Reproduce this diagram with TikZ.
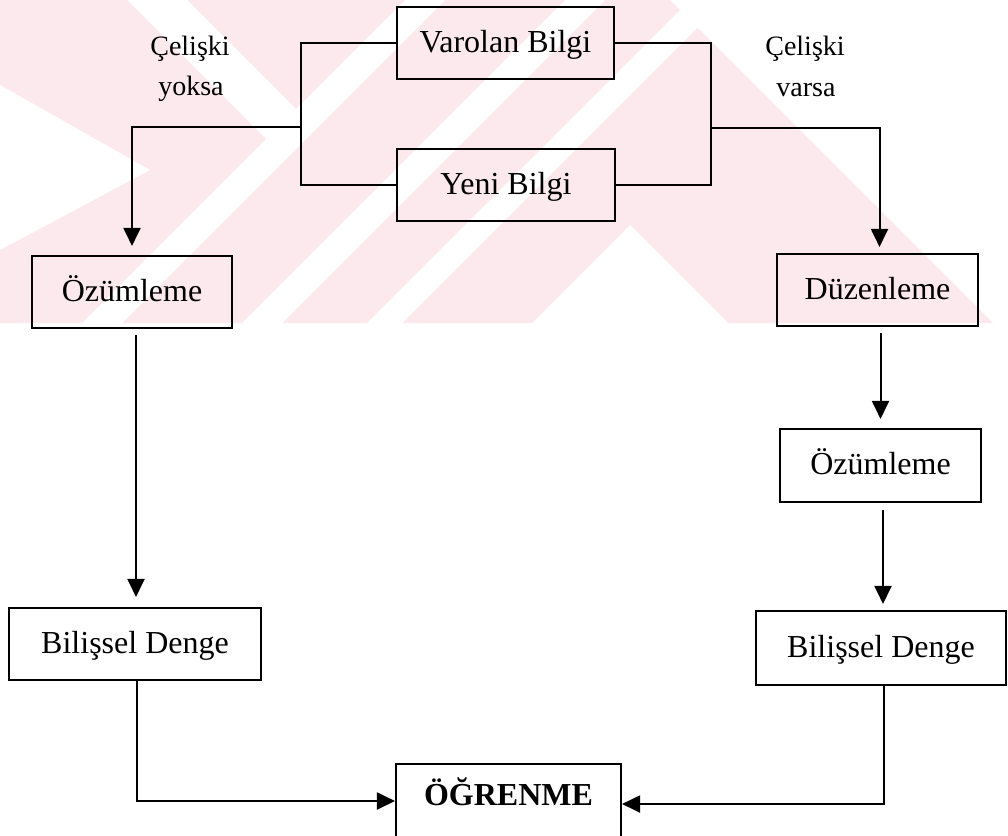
\documentclass[tikz,border=0pt]{standalone}
\usepackage{fontspec}
\setmainfont{Liberation Serif}
\usetikzlibrary{arrows.meta}
\definecolor{wm}{RGB}{252,233,237}
\begin{document}
\begin{tikzpicture}[x=1pt,y=-1pt]
\tikzset{
  box/.style={draw, line width=2.1pt, inner sep=0pt, text height=25pt, text depth=7pt, font=\fontsize{32}{38}\selectfont},
  lbl/.style={font=\fontsize{28}{34}\selectfont, anchor=base, inner sep=0pt},
  conn/.style={line width=2pt},
  arr/.style={conn, -{Triangle[width=17pt,length=18pt]}}
}
\useasboundingbox (0,0) rectangle (1008,835);
% watermark
\begin{scope}
  \clip (0,0) rectangle (1008,323);
  \fill[wm] (0,0) -- (670,0) -- (993,323) -- (0,323) -- cycle;
  \fill[white] (0,85) -- (150,170) -- (0,250) -- cycle;
  \fill[white] (405,0) -- (445,0) -- (122,323) -- (82,323) -- cycle;
  \fill[white] (565,0) -- (605,0) -- (282,323) -- (242,323) -- cycle;
  \fill[white] (690,0) -- (725,0) -- (402,323) -- (367,323) -- cycle;
  \fill[white] (127,0) -- (187,0) -- (296,109) -- (266,139) -- cycle;
  \fill[white] (630,225) -- (532,323) -- (728,323) -- cycle;
\end{scope}
% boxes
\node[box, minimum width=217pt, minimum height=72pt] (var) at (505.5,43) {Varolan Bilgi};
\node[box, minimum width=218pt, minimum height=72pt] (yeni) at (506,185) {Yeni Bilgi};
\node[box, minimum width=200pt, minimum height=72pt] (ozl) at (132,292) {Özümleme};
\node[box, minimum width=201pt, minimum height=72pt] (duz) at (877.5,290) {Düzenleme};
\node[box, minimum width=201pt, minimum height=73pt] (ozr) at (880.5,465.5) {Özümleme};
\node[box, minimum width=252pt, minimum height=72pt] (bdl) at (135,644) {Bilişsel Denge};
\node[box, minimum width=250pt, minimum height=74pt] (bdr) at (881,648) {Bilişsel Denge};
\node[box, minimum width=225pt, minimum height=76pt] (ogr) at (508.5,802) {};
\node[anchor=base, inner sep=0pt, font=\bfseries\fontsize{32}{38}\selectfont] (ogrt) at (508.5,805) {ÖĞRENME};
% labels
\node[lbl] (c1) at (190,55) {Çelişki};
\node[lbl] (c1b) at (191,95) {yoksa};
\node[lbl] (c2) at (805,55) {Çelişki};
\node[lbl] (c2b) at (806,96) {varsa};
% brackets
\coordinate (lb) at (301,127);
\coordinate (rb) at (711,128);
\draw[conn] (var.west) -- (var.west -| lb) -- (yeni.west -| lb) -- (yeni.west);
\draw[conn] (var.east) -- (var.east -| rb) -- (yeni.east -| rb) -- (yeni.east);
\draw[arr, shorten >=9pt] (lb) -| (ozl.north);
\draw[arr, shorten >=6pt] (rb) -| ([xshift=2pt]duz.north);
% right column
\draw[arr, shorten <=6pt, shorten >=9pt] (ozr.north |- duz.south) -- (ozr.north);
\draw[arr, shorten <=7pt, shorten >=6pt] ([xshift=2pt]bdr.north |- ozr.south) -- ([xshift=2pt]bdr.north);
\draw[arr] ([xshift=3pt]bdr.south) |- ([yshift=-2pt]ogr.east);
% left column
\draw[arr, shorten <=6pt, shorten >=10pt] ([xshift=1pt]bdl.north |- ozl.south) -- ([xshift=1pt]bdl.north);
\draw[arr] ([xshift=2pt]bdl.south) |- ([yshift=1pt]ogr.west);
\end{tikzpicture}
\end{document}
